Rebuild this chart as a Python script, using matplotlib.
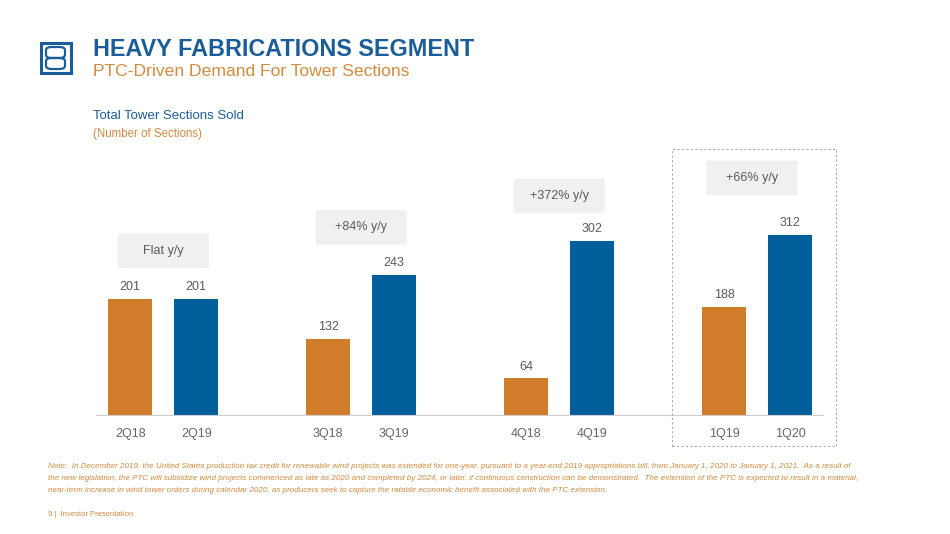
import matplotlib
matplotlib.use("Agg")
import matplotlib.pyplot as plt
from matplotlib.patches import FancyBboxPatch, Rectangle

plt.rcParams["font.family"] = ["Liberation Sans", "DejaVu Sans"]

# Data
CATEGORIES = ["2Q18", "2Q19", "3Q18", "3Q19", "4Q18", "4Q19", "1Q19", "1Q20"]
POSITIONS = [0, 1, 3, 4, 6, 7, 9, 10]
VALUES = [201, 201, 132, 243, 64, 302, 188, 312]
PRIOR_YEAR = [True, False, True, False, True, False, True, False]
CALLOUTS = ["Flat y/y", "+84% y/y", "+372% y/y", "+66% y/y"]
CALLOUT_X = [0.5, 3.5, 6.5, 9.42]
CALLOUT_BOTTOM = [255, 295, 350, 381]

ORANGE = "#d07c2b"
BLUE = "#005e9b"
TITLE_BLUE = "#1b5d99"
SUB_ORANGE = "#d38a3e"
GREY_TEXT = "#5a5a5a"

W, H = 950, 534
fig = plt.figure(figsize=(W / 100, H / 100), dpi=100)


def fx(px):
    return px / W


def fy(py):
    return 1 - py / H


# chart axes: baseline at y=415px, 0.577 px per section
ax = fig.add_axes([fx(96), fy(415), fx(823 - 96), (450 * 0.577) / H])
ax.set_xlim(-0.52, 10.5)
ax.set_ylim(0, 450)

colors = [ORANGE if p else BLUE for p in PRIOR_YEAR]
bars = ax.bar(POSITIONS, VALUES, width=0.667, color=colors, zorder=2)
for x, v in zip(POSITIONS, VALUES):
    ax.annotate(str(v), (x, v), xytext=(0, 4), textcoords="offset points",
                ha="center", va="bottom", fontsize=9, color=GREY_TEXT)

for label, cx, cb in zip(CALLOUTS, CALLOUT_X, CALLOUT_BOTTOM):
    box = FancyBboxPatch((cx - 0.69, cb), 1.38, 60,
                         boxstyle="round,pad=0,rounding_size=0.08",
                         mutation_aspect=60 / 1.38 * 0.3,
                         facecolor="#f0f0f0", edgecolor="none", zorder=1)
    ax.add_patch(box)
    ax.text(cx, cb + 30, label, ha="center", va="center", fontsize=9,
            color=GREY_TEXT, zorder=3)

ax.set_xticks(POSITIONS)
ax.set_xticklabels(CATEGORIES, fontsize=9, color="#666666")
ax.tick_params(axis="x", length=0, pad=9)
ax.set_yticks([])
for side in ["top", "right", "left"]:
    ax.spines[side].set_visible(False)
ax.spines["bottom"].set_color("#cccccc")
ax.spines["bottom"].set_linewidth(0.8)
ax.patch.set_alpha(0)

# dashed highlight around latest quarter
fig.patches.append(Rectangle((fx(672), fy(446)), fx(836 - 672), (446 - 149) / H,
                             transform=fig.transFigure, fill=False,
                             edgecolor="#aaaaaa", linestyle=(0, (2, 2)),
                             linewidth=0.8))

# logo
fig.patches.append(Rectangle((fx(41), fy(73)), fx(30), 30 / H,
                             transform=fig.transFigure, fill=False,
                             edgecolor=TITLE_BLUE, linewidth=2.2))
for top, bottom in [(47, 58), (58, 69)]:
    fig.patches.append(FancyBboxPatch((fx(46), fy(bottom)), fx(19), (bottom - top) / H,
                                      boxstyle="round,pad=0,rounding_size=0.006",
                                      transform=fig.transFigure, fill=False,
                                      edgecolor=TITLE_BLUE, linewidth=1.6))

# titles
fig.text(fx(93), fy(49), "HEAVY FABRICATIONS SEGMENT", fontsize=16.8,
         fontweight="bold", color=TITLE_BLUE, va="center")
fig.text(fx(93), fy(71), "PTC-Driven Demand For Tower Sections", fontsize=12.6,
         color=SUB_ORANGE, va="center")
fig.text(fx(93), fy(116), "Total Tower Sections Sold", fontsize=9.5,
         color=TITLE_BLUE, va="center")
fig.text(fx(93), fy(134), "(Number of Sections)", fontsize=8.3,
         color=SUB_ORANGE, va="center")

note = ("Note:  In December 2019, the United States production tax credit for renewable wind projects "
        "was extended for one-year, pursuant to a year-end 2019 appropriations bill, from January 1, 2020 "
        "to January 1, 2021.  As a result of\n"
        "the new legislation, the PTC will subsidize wind projects commenced as late as 2020 and completed "
        "by 2024, or later, if continuous construction can be demonstrated.  The extension of the PTC is "
        "expected to result in a material,\n"
        "near-term increase in wind tower orders during calendar 2020, as producers seek to capture the "
        "ratable economic benefit associated with the PTC extension.")
fig.text(fx(48), fy(463), note, fontsize=5.75, style="italic", color=SUB_ORANGE,
         va="top", linespacing=1.95)
fig.text(fx(48), fy(514), "9 |  Investor Presentation", fontsize=5.5,
         color=SUB_ORANGE, va="center")

fig.savefig("out.png", dpi=100)
